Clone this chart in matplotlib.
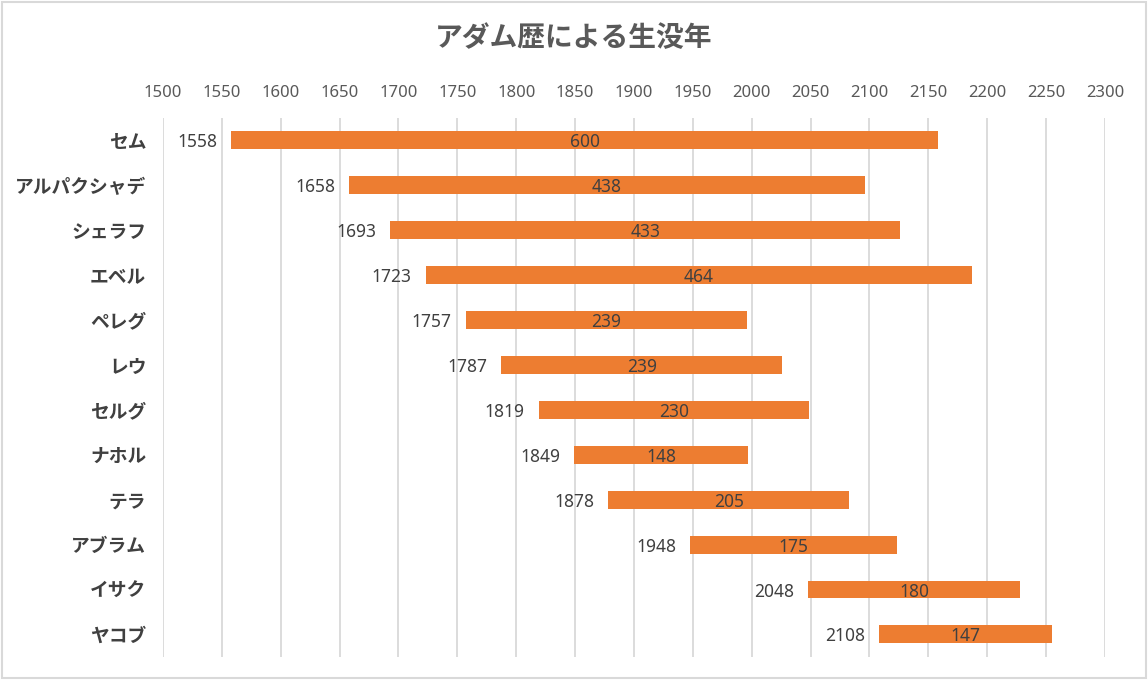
import matplotlib
matplotlib.use("Agg")
import matplotlib.pyplot as plt
from matplotlib.patches import Rectangle

plt.rcParams['font.family'] = ['Noto Sans CJK JP', 'DejaVu Sans']

names = ['セム', 'アルパクシャデ', 'シェラフ', 'エベル', 'ペレグ', 'レウ',
         'セルグ', 'ナホル', 'テラ', 'アブラム', 'イサク', 'ヤコブ']
births = [1558, 1658, 1693, 1723, 1757, 1787, 1819, 1849, 1878, 1948, 2048, 2108]
lifespans = [600, 438, 433, 464, 239, 239, 230, 148, 205, 175, 180, 147]
ticks = list(range(1500, 2301, 50))

bar_color = '#ED7D31'
text_color = '#404040'
num_font = ['Noto Sans', 'DejaVu Sans']

fig = plt.figure(figsize=(11.48, 6.8), dpi=100)
ax = fig.add_axes([0.142, 0.034, 0.8205, 0.7925])

y = list(range(len(names)))
ax.barh(y, lifespans, left=births, height=0.4, color=bar_color, zorder=3)

for i in y:
    ax.annotate(str(births[i]), (births[i], i), xytext=(-10, 0),
                textcoords='offset points', ha='right', va='center_baseline',
                fontsize=12.5, color=text_color, family=num_font)
    ax.text(births[i] + lifespans[i] / 2, i, str(lifespans[i]), ha='center',
            va='center_baseline', fontsize=12.5, color=text_color, zorder=4,
            family=num_font)

ax.set_xlim(1500, 2300)
ax.set_ylim(len(names) - 0.5, -0.5)
ax.set_xticks(ticks)
ax.xaxis.tick_top()
ax.tick_params(axis='x', length=0, pad=12, labelsize=12, labelcolor='#595959')
ax.tick_params(axis='y', length=0, pad=12)
for lab in ax.get_xticklabels():
    lab.set_family(num_font)
ax.set_yticks(y)
ax.set_yticklabels(names, fontsize=13.5, fontweight='bold', color=text_color)
ax.grid(axis='x', color='#D9D9D9', linewidth=1.3, zorder=0)
for s in ax.spines.values():
    s.set_visible(False)

fig.suptitle('アダム歴による生没年', y=0.965, fontsize=20, fontweight='bold', color='#595959')

fig.patches.append(Rectangle((0.002, 0.003), 0.996, 0.994, transform=fig.transFigure,
                             fill=False, edgecolor='#D9D9D9', linewidth=1.5))

fig.savefig('out.png', dpi=100, facecolor='white')
